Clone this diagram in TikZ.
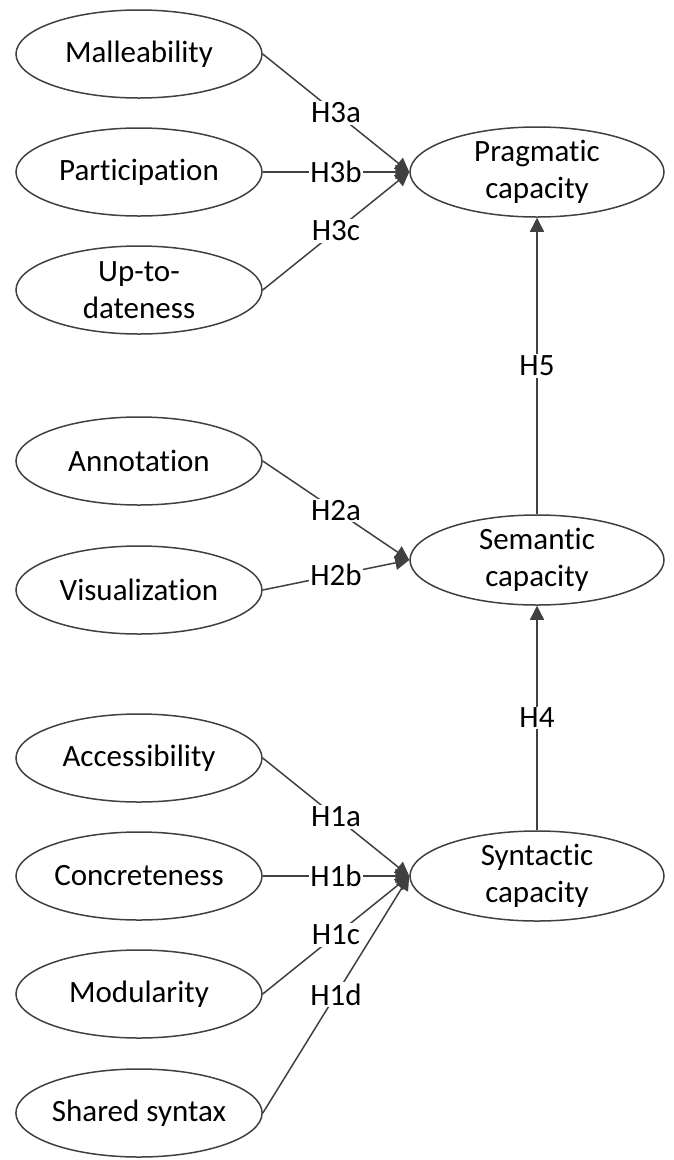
\documentclass[tikz,border=0pt]{standalone}
\usepackage{fontspec}
\setmainfont[Ligatures=NoCommon]{Carlito}
\usetikzlibrary{arrows.meta,shapes.geometric}
\definecolor{lc}{HTML}{404040}
\tikzset{
  ell/.style={ellipse, draw=lc, line width=1.5pt, minimum width=246pt, minimum height=88pt, inner sep=0pt, align=center, font=\fontsize{31}{37}\selectfont},
  rell/.style={ell, minimum width=254pt, minimum height=90pt},
  conn/.style={draw=lc, line width=1.5pt, -{Triangle[length=14pt,width=14pt]}},
  lab/.style={fill=white, inner sep=1.5pt, font=\fontsize{31}{36}\selectfont}
}
\begin{document}
\begin{tikzpicture}[x=1pt,y=-1pt]
\useasboundingbox (0,0) rectangle (674,1160);
\node[ell] (mal) at (139,54) {Malleability};
\node[ell] (par) at (139,172) {Participation};
\node[ell] (upd) at (139,290) {Up-to-\\dateness};
\node[ell] (ann) at (139,461) {Annotation};
\node[ell] (vis) at (139,590) {Visualization};
\node[ell] (acc) at (139,758) {Accessibility};
\node[ell] (con) at (139,876) {Concreteness};
\node[ell] (mod) at (139,994) {Modularity};
\node[ell] (sha) at (139,1113) {Shared syntax};
\node[rell] (pra) at (537,172) {Pragmatic\\capacity};
\node[rell] (sem) at (537,560) {Semantic\\capacity};
\node[rell] (syn) at (537,876) {Syntactic\\capacity};
\draw[conn] (mal.east) -- node[lab]{H3a} (pra.west);
\draw[conn] (par.east) -- node[lab]{H3b} (pra.west);
\draw[conn] (upd.east) -- node[lab]{H3c} (pra.west);
\draw[conn] (ann.east) -- node[lab]{H2a} (sem.west);
\draw[conn] (vis.east) -- node[lab]{H2b} (sem.west);
\draw[conn] (acc.east) -- node[lab]{H1a} (syn.west);
\draw[conn] (con.east) -- node[lab]{H1b} (syn.west);
\draw[conn] (mod.east) -- node[lab]{H1c} (syn.west);
\draw[conn] (sha.east) -- node[lab]{H1d} (syn.west);
\draw[conn] (syn.north) -- node[lab]{H4} (sem.south);
\draw[conn] (sem.north) -- node[lab]{H5} (pra.south);
\end{tikzpicture}
\end{document}
